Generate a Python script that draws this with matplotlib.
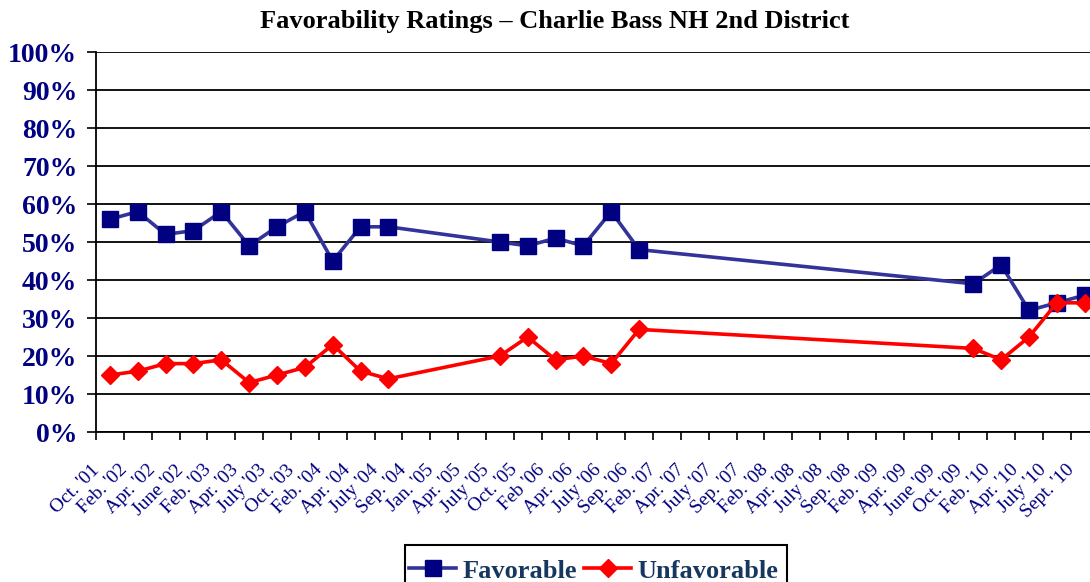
import numpy as np
import matplotlib
matplotlib.use("Agg")
import matplotlib.pyplot as plt
import matplotlib.transforms as mtrans
from matplotlib.patches import Rectangle

# category labels along the x axis
dates = ["Oct. '01", "Feb. '02", "Apr. '02", "June '02", "Feb. '03", "Apr. '03",
         "July '03", "Oct. '03", "Feb. '04", "Apr. '04", "July '04", "Sep. '04",
         "Jan. '05", "Apr. '05", "July '05", "Oct. '05", "Feb '06", "Apr. '06",
         "July '06", "Sep. '06", "Feb. '07", "Apr. '07", "July '07", "Sep. '07",
         "Feb. '08", "Apr. '08", "July '08", "Sep. '08", "Feb. '09", "Apr. '09",
         "June '09", "Oct. '09", "Feb. '10", "Apr. '10", "July '10", "Sept. '10"]

# ratings in percent, None where no poll
favorable = [56, 58, 52, 53, 58, 49, 54, 58, 45, 54, 54, None,
             None, None, 50, 49, 51, 49, 58, 48, None, None, None, None,
             None, None, None, None, None, None, None, 39, 44, 32, 34, 36]
unfavorable = [15, 16, 18, 18, 19, 13, 15, 17, 23, 16, 14, None,
               None, None, 20, 25, 19, 20, 18, 27, None, None, None, None,
               None, None, None, None, None, None, None, 22, 19, 25, 34, 34]

serif = "Liberation Serif"
navy = "#000080"

fig = plt.figure(figsize=(10.9, 5.82), dpi=100)
ax = fig.add_axes([96 / 1090, 150 / 582, 1002.6 / 1090, 380 / 582])


def series(vals):
    idx = np.array([i for i, v in enumerate(vals) if v is not None])
    y = np.array([v for v in vals if v is not None], dtype=float) / 100
    return idx, y


xf, yf = series(favorable)
xu, yu = series(unfavorable)

ax.plot(xf, yf, color="#333399", lw=2.6, marker="s", ms=11,
        mfc=navy, mec=navy, label="Favorable", zorder=3)
ax.plot(xu, yu, color="#FF0000", lw=2.6, marker="D", ms=9,
        mfc="#FF0000", mec="#FF0000", label="Unfavorable", zorder=4)

ax.set_xlim(-0.5, len(dates) - 0.5)
ax.set_ylim(0, 1)

# ticks sit between categories, labels at the centres
ax.set_xticks(np.arange(len(dates) + 1) - 0.5)
ax.set_xticklabels([])
ax.set_xticks(np.arange(len(dates)), minor=True)
ax.set_xticklabels(dates, minor=True, rotation=45, ha="right", va="top",
                   rotation_mode="anchor", fontsize=14, family=serif, color=navy)
ax.tick_params(axis="x", which="major", length=6, width=1.2, direction="out")
ax.tick_params(axis="x", which="minor", length=0, pad=6)
# Excel puts the rotated labels a bit down-left of the category centre
shift = mtrans.ScaledTranslation(-0.19, -0.21, fig.dpi_scale_trans)
for lbl in ax.get_xticklabels(minor=True):
    lbl.set_transform(lbl.get_transform() + shift)

ax.set_yticks(np.arange(0, 1.01, 0.1))
ax.set_yticklabels(["%d%%" % round(v * 100) for v in np.arange(0, 1.01, 0.1)],
                   fontsize=20, fontweight="bold", family=serif, color=navy)
ax.tick_params(axis="y", length=6.5, width=1.2, direction="out", pad=7)

ax.yaxis.grid(True, color="black", lw=1.3)
ax.set_axisbelow(True)
for s in ["top", "right"]:
    ax.spines[s].set_visible(False)
for s in ["left", "bottom"]:
    ax.spines[s].set_linewidth(1.3)

fig.text(0.509, 0.963, "Favorability Ratings \u2013 Charlie Bass NH 2nd District",
         ha="center", va="center", fontsize=19, fontweight="bold",
         family=serif, color="black")

# legend without its own frame; the box runs off the bottom like in the original
leg = fig.legend(loc="upper center", bbox_to_anchor=(0.545, 0.0485), ncol=2,
                 frameon=False, handlelength=1.75, columnspacing=0.27,
                 handletextpad=0.27, borderpad=0.2, borderaxespad=0,
                 prop={"family": serif, "weight": "bold", "size": 19})
for t in leg.get_texts():
    t.set_color("#17375E")
fig.patches.append(Rectangle((405 / 1090, -0.03), 382 / 1090, 0.03 + 37 / 582,
                             transform=fig.transFigure, fill=False,
                             edgecolor="black", lw=1.5))

fig.savefig("out.png", dpi=100)
